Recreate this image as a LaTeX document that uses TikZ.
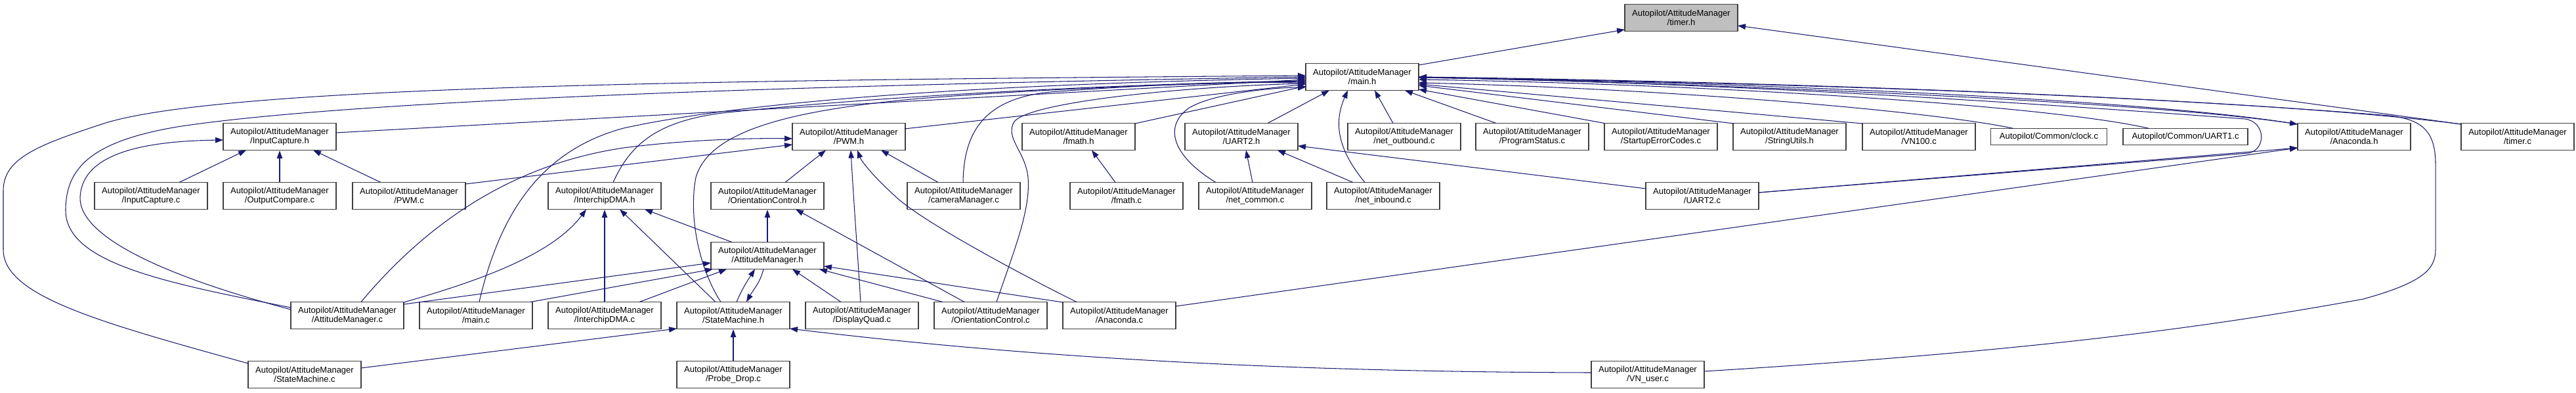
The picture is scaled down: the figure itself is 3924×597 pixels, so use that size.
\documentclass[tikz,border=0pt]{standalone}
\usepackage{fontspec}
\setmainfont{Liberation Sans}
\usetikzlibrary{arrows.meta}
\definecolor{edgeblue}{HTML}{191970}
\definecolor{boxline}{HTML}{404040}
\definecolor{hilite}{HTML}{BFBFBF}
\tikzset{
  box/.style={draw=boxline, line width=1.2pt, fill=white, rectangle, minimum width=172pt, minimum height=41pt, inner sep=0pt, align=center, font=\fontsize{13}{14.3}\selectfont},
  onebox/.style={box, minimum height=25pt},
  dep/.style={draw=edgeblue, line width=1.05pt, -{Triangle[length=12pt,width=8.5pt]}}
}
\begin{document}
\begin{tikzpicture}[x=1pt,y=-1pt]
\useasboundingbox (0,0) rectangle (3924,597);
% nodes
\node[box, fill=hilite] (timerh) at (2561,27) {Autopilot/AttitudeManager\\/timer.h};
\node[box] (mainh) at (2075,117) {Autopilot/AttitudeManager\\/main.h};
% row A
\node[box] (ich) at (426,208) {Autopilot/AttitudeManager\\/InputCapture.h};
\node[box] (pwmh) at (1293,208) {Autopilot/AttitudeManager\\/PWM.h};
\node[box] (fmathh) at (1643,208) {Autopilot/AttitudeManager\\/fmath.h};
\node[box] (uart2h) at (1891,208) {Autopilot/AttitudeManager\\/UART2.h};
\node[box] (netout) at (2139,208) {Autopilot/AttitudeManager\\/net\_outbound.c};
\node[box] (progstat) at (2334,208) {Autopilot/AttitudeManager\\/ProgramStatus.c};
\node[box] (startup) at (2530,208) {Autopilot/AttitudeManager\\/StartupErrorCodes.c};
\node[box] (strutil) at (2726,208) {Autopilot/AttitudeManager\\/StringUtils.h};
\node[box] (vn100) at (2923,208) {Autopilot/AttitudeManager\\/VN100.c};
\node[onebox, minimum width=177pt] (clock) at (3121,208) {Autopilot/Common/clock.c};
\node[onebox, minimum width=190pt] (uart1) at (3329,208) {Autopilot/Common/UART1.c};
\node[box] (anah) at (3586,208) {Autopilot/AttitudeManager\\/Anaconda.h};
\node[box] (timerc) at (3835,208) {Autopilot/AttitudeManager\\/timer.c};
% row B
\node[box] (icc) at (230,298) {Autopilot/AttitudeManager\\/InputCapture.c};
\node[box] (occ) at (426,298) {Autopilot/AttitudeManager\\/OutputCompare.c};
\node[box] (pwmc) at (623,298) {Autopilot/AttitudeManager\\/PWM.c};
\node[box] (idmah) at (921,298) {Autopilot/AttitudeManager\\/InterchipDMA.h};
\node[box] (och) at (1169,298) {Autopilot/AttitudeManager\\/OrientationControl.h};
\node[box] (camc) at (1468,298) {Autopilot/AttitudeManager\\/cameraManager.c};
\node[box] (fmathc) at (1716,298) {Autopilot/AttitudeManager\\/fmath.c};
\node[box] (netcom) at (1912,298) {Autopilot/AttitudeManager\\/net\_common.c};
\node[box] (netin) at (2107,298) {Autopilot/AttitudeManager\\/net\_inbound.c};
\node[box] (uart2c) at (2593,298) {Autopilot/AttitudeManager\\/UART2.c};
% row C
\node[box] (amh) at (1169,389) {Autopilot/AttitudeManager\\/AttitudeManager.h};
% row D
\node[box] (amc) at (529,480) {Autopilot/AttitudeManager\\/AttitudeManager.c};
\node[box] (mainc) at (725,480) {Autopilot/AttitudeManager\\/main.c};
\node[box] (idmac) at (921,480) {Autopilot/AttitudeManager\\/InterchipDMA.c};
\node[box] (smh) at (1117,480) {Autopilot/AttitudeManager\\/StateMachine.h};
\node[box] (dqc) at (1313,480) {Autopilot/AttitudeManager\\/DisplayQuad.c};
\node[box] (occ2) at (1509,480) {Autopilot/AttitudeManager\\/OrientationControl.c};
\node[box] (anac) at (1705,480) {Autopilot/AttitudeManager\\/Anaconda.c};
% row E
\node[box] (smc) at (464,570) {Autopilot/AttitudeManager\\/StateMachine.c};
\node[box] (probe) at (1117,570) {Autopilot/AttitudeManager\\/Probe\_Drop.c};
\node[box] (vnuser) at (2510,570) {Autopilot/AttitudeManager\\/VN\_user.c};

% edges into timer.h
\draw[dep] ([shift={(86,-18)}]mainh.center) -- ([shift={(-86,18)}]timerh.center);
\draw[dep] ([shift={(-86,-19)}]timerc.center) -- ([shift={(86,12)}]timerh.center);

% edges into main.h from the left
\draw[dep] ([shift={(86,-6)}]ich.center) -- ([shift={(-86,4)}]mainh.center);
\draw[dep] ([shift={(-86,-12)}]amc.center) .. controls (250,430) and (100,400) .. (100,320)
  .. controls (100,255) and (140,215) .. (270,193) .. controls (550,150) and (1300,128) .. ([shift={(-86,0)}]mainh.center);
\draw[dep] ([shift={(-86,-17)}]smc.center) .. controls (150,490) and (5,450) .. (5,380) -- (5,290)
  .. controls (5,240) and (60,220) .. (161,187) .. controls (350,130) and (1100,122) .. ([shift={(-86,-2)}]mainh.center);
\draw[dep] ([shift={(5,-20.5)}]mainc.center) .. controls (760,330) and (820,230) .. (950,195)
  .. controls (1200,140) and (1700,124) .. ([shift={(-86,2)}]mainh.center);
\draw[dep] ([shift={(13,-20.5)}]idmah.center) .. controls (960,220) and (1000,185) .. (1100,172)
  .. controls (1400,140) and (1800,126) .. ([shift={(-86,6)}]mainh.center);
\draw[dep] ([shift={(-19,-20.5)}]smh.center) .. controls (1060,400) and (1050,320) .. (1060,270)
  .. controls (1080,200) and (1200,168) .. (1400,150) .. controls (1600,134) and (1850,126) .. ([shift={(-86,7)}]mainh.center);
\draw[dep] ([shift={(85,-12)}]pwmh.center) -- ([shift={(-86,11)}]mainh.center);
\draw[dep] ([shift={(-1,-20.5)}]camc.center) .. controls (1468,200) and (1500,150) .. (1600,140)
  .. controls (1800,125) and (1900,125) .. ([shift={(-86,9)}]mainh.center);
\draw[dep] ([shift={(9,-20.5)}]occ2.center) .. controls (1545,380) and (1570,320) .. (1566,270)
  .. controls (1562,230) and (1530,210) .. (1545,185) .. controls (1570,155) and (1800,132) .. ([shift={(-86,10)}]mainh.center);
\draw[dep] ([shift={(86,-20)}]fmathh.center) -- ([shift={(-86,14)}]mainh.center);
\draw[dep] ([shift={(-60,-20.5)}]netcom.center) .. controls (1790,240) and (1770,195) .. (1810,165)
  .. controls (1850,140) and (1950,133) .. ([shift={(-86,16)}]mainh.center);

% edges into main.h from below
\draw[dep] ([shift={(40,-20.5)}]uart2h.center) -- ([shift={(-50,20.5)}]mainh.center);
\draw[dep] ([shift={(-28,-20.5)}]netin.center) .. controls (2040,230) and (2030,190) .. ([shift={(-22,20.5)}]mainh.center);
\draw[dep] ([shift={(-17,-20.5)}]netout.center) -- ([shift={(19,20.5)}]mainh.center);
\draw[dep] ([shift={(-55,-20.5)}]progstat.center) -- ([shift={(65,20.5)}]mainh.center);

% edges into main.h from the right
\draw[dep] ([shift={(-86,-20.5)}]startup.center) -- ([shift={(86,19)}]mainh.center);
\draw[dep] ([shift={(-85,-20)}]strutil.center) -- ([shift={(86,13)}]mainh.center);
\draw[dep] ([shift={(-86,-20)}]vn100.center) -- ([shift={(86,11)}]mainh.center);
\draw[dep] ([shift={(-54,-12.5)}]clock.center) .. controls (2950,170) and (2550,135) .. ([shift={(86,9)}]mainh.center);
\draw[dep] ([shift={(-55,-12.5)}]uart1.center) .. controls (3120,160) and (2600,128) .. ([shift={(86,4)}]mainh.center);
\draw[dep] ([shift={(-86,-19)}]anah.center) .. controls (3250,148) and (2600,124) .. ([shift={(86,1)}]mainh.center);
\draw[dep] ([shift={(-86,-19)}]timerc.center) .. controls (3450,150) and (2700,124) .. ([shift={(86,0)}]mainh.center);
\draw[dep] ([shift={(86,-5)}]vnuser.center) .. controls (3000,540) and (3300,510) .. (3600,455)
  .. controls (3690,430) and (3710,410) .. (3710,380) -- (3710,250)
  .. controls (3710,200) and (3690,182) .. (3640,176) .. controls (3200,140) and (2600,124) .. ([shift={(86,1)}]mainh.center);
\draw[dep] ([shift={(86,-5)}]uart2c.center) -- (3425,233)
  .. controls (3452,228) and (3452,186) .. (3420,181) .. controls (3000,150) and (2600,126) .. ([shift={(86,1)}]mainh.center);

% edges into Anaconda.h
\draw[dep] ([shift={(86,0)}]mainh.center) .. controls (2600,128) and (3250,152) .. ([shift={(-86,-19)}]anah.center);
\draw[dep] ([shift={(86,-5)}]uart2c.center) -- ([shift={(-86,17)}]anah.center);
\draw[dep] ([shift={(86,-14)}]anac.center) -- ([shift={(-86,17)}]anah.center);

% edges into InputCapture.h
\draw[dep] ([shift={(43,-20.5)}]icc.center) -- ([shift={(-51,20.5)}]ich.center);
\draw[dep] (occ.north) -- (ich.south);
\draw[dep] ([shift={(-43,-20.5)}]pwmc.center) -- ([shift={(51,20.5)}]ich.center);
\draw[dep] ([shift={(-86,-9)}]amc.center) .. controls (250,420) and (120,360) .. (122,300)
  .. controls (125,240) and (200,215) .. ([shift={(-86,5)}]ich.center);

% edges into PWM.h
\draw[dep] ([shift={(86,-18)}]pwmc.center) -- ([shift={(-86,12)}]pwmh.center);
\draw[dep] ([shift={(21,-20.5)}]amc.center) .. controls (650,340) and (780,250) .. (950,225)
  .. controls (1050,212) and (1150,210) .. ([shift={(-86,3)}]pwmh.center);
\draw[dep] ([shift={(27,-20.5)}]och.center) -- ([shift={(-35,20.5)}]pwmh.center);
\draw[dep] ([shift={(-2,-20.5)}]dqc.center) .. controls (1306,380) and (1300,300) .. ([shift={(3,20.5)}]pwmh.center);
\draw[dep] ([shift={(-65,-20.5)}]anac.center) .. controls (1560,420) and (1400,335) .. (1362,297)
  .. controls (1330,268) and (1312,245) .. ([shift={(13,20.5)}]pwmh.center);
\draw[dep] ([shift={(-39,-20.5)}]camc.center) -- ([shift={(49,20.5)}]pwmh.center);

% fmath.h, UART2.h
\draw[dep] ([shift={(-17,-20.5)}]fmathc.center) -- ([shift={(20,20.5)}]fmathh.center);
\draw[dep] ([shift={(-4,-20.5)}]netcom.center) -- ([shift={(7,20.5)}]uart2h.center);
\draw[dep] ([shift={(-46,-20.5)}]netin.center) -- ([shift={(55,20.5)}]uart2h.center);
\draw[dep] ([shift={(-86,-11)}]uart2c.center) -- ([shift={(86,14)}]uart2h.center);

% InterchipDMA.h
\draw[dep] ([shift={(86,-20)}]amc.center) .. controls (720,430) and (840,390) .. ([shift={(-28,20.5)}]idmah.center);
\draw[dep] (idmac.north) -- (idmah.south);
\draw[dep] ([shift={(-27,-20.5)}]smh.center) -- ([shift={(23,20.5)}]idmah.center);
\draw[dep] ([shift={(-54,-20.5)}]amh.center) -- ([shift={(61,20.5)}]idmah.center);

% OrientationControl.h
\draw[dep] (amh.north) -- (och.south);
\draw[dep] ([shift={(-40,-20.5)}]occ2.center) -- ([shift={(43,20.5)}]och.center);

% AttitudeManager.h
\draw[dep] ([shift={(86,-17)}]amc.center) -- ([shift={(-86,11)}]amh.center);
\draw[dep] ([shift={(83,-20.5)}]mainc.center) -- ([shift={(-83,20.5)}]amh.center);
\draw[dep] ([shift={(53,-20.5)}]idmac.center) -- ([shift={(-62,20.5)}]amh.center);
\draw[dep] ([shift={(5,-20.5)}]smh.center) .. controls (1130,440) and (1140,425) .. ([shift={(-19,20.5)}]amh.center);
\draw[dep] ([shift={(-32,-20.5)}]dqc.center) -- ([shift={(38,20.5)}]amh.center);
\draw[dep] ([shift={(-73,-20.5)}]occ2.center) -- ([shift={(79,20.5)}]amh.center);
\draw[dep] ([shift={(-86,-20)}]anac.center) -- ([shift={(86,16)}]amh.center);

% StateMachine.h
\draw[dep] ([shift={(-6,20.5)}]amh.center) .. controls (1158,430) and (1148,440) .. ([shift={(20,-20.5)}]smh.center);
\draw[dep] ([shift={(86,-10)}]smc.center) -- ([shift={(-86,20)}]smh.center);
\draw[dep] (probe.north) -- (smh.south);
\draw[dep] ([shift={(-86,-3)}]vnuser.center) .. controls (2000,566) and (1600,548) .. ([shift={(86,20)}]smh.center);
\end{tikzpicture}
\end{document}
